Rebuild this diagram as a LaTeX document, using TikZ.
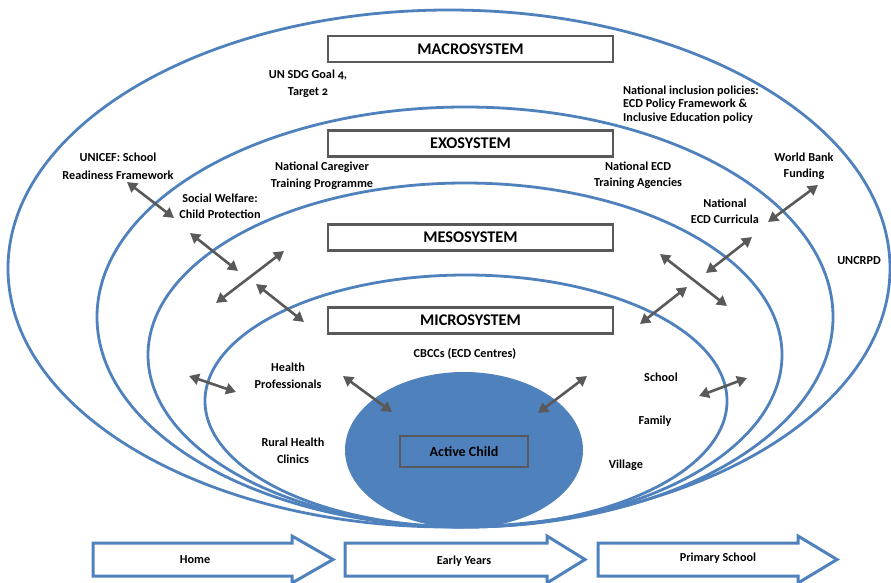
\documentclass[tikz,border=0pt]{standalone}
\usepackage{fontspec}
\setmainfont{Carlito}[Numbers=OldStyle]
\usetikzlibrary{arrows.meta}
\definecolor{eblue}{HTML}{4F81BD}
\definecolor{agray}{HTML}{595959}
\begin{document}
\begin{tikzpicture}[x=1pt,y=-1pt,
 ring/.style={draw=eblue,line width=2.8pt},
 sysbox/.style={draw=agray,line width=2.2pt,fill=white,minimum width=285pt,minimum height=26pt,font=\fontsize{16.3}{18}\selectfont\bfseries,inner sep=0pt},
 childbox/.style={draw=agray,line width=2.2pt,minimum width=128pt,minimum height=31pt,font=\fontsize{14}{16}\selectfont\bfseries,inner sep=0pt},
 lbl/.style={font=\fontsize{12.2}{17}\selectfont\bfseries,align=center,inner sep=0pt},
 dbl/.style={draw=agray,line width=2.6pt,{Triangle[length=10pt,width=11pt]}-{Triangle[length=10pt,width=11pt]}},
 flow/.style={draw=eblue,line width=3pt,fill=white,line join=miter},
]
\useasboundingbox (0,0) rectangle (891,583);
% rings
\draw[ring] (449,268.5) ellipse [x radius=441, y radius=258.5];
\draw[ring] (465,317) ellipse [x radius=368, y radius=210];
\draw[ring] (465,355) ellipse [x radius=317, y radius=172];
\draw[ring] (466,401) ellipse [x radius=261, y radius=126];
\fill[eblue] (464,450) ellipse [x radius=119, y radius=78];
% system boxes
\node[sysbox] (macro) at (470.5,49) {MACROSYSTEM};
\node[sysbox] (exo) at (470.5,143.5) {EXOSYSTEM};
\node[sysbox] (meso) at (470.5,237.5) {MESOSYSTEM};
\node[sysbox] (micro) at (470.5,320.5) {MICROSYSTEM};
\node[childbox] (child) at (464,451.5) {Active Child};
% labels
\node[lbl] (sdg) at (308,83.5) {UN SDG Goal 4,\\Target 2};
\node[lbl,align=left,anchor=west,font=\fontsize{12.2}{13.5}\selectfont\bfseries] (incl) at (623,104.5) {National inclusion policies:\\ECD Policy Framework \&\\Inclusive Education policy};
\node[lbl,font=\fontsize{12.2}{18}\selectfont\bfseries] (unicef) at (118,166) {UNICEF: School\\Readiness Framework};
\node[lbl] (care) at (322,175.5) {National Caregiver\\Training Programme};
\node[lbl,font=\fontsize{12.2}{16}\selectfont\bfseries] (agency) at (638,175) {National ECD\\Training Agencies};
\node[lbl,font=\fontsize{12.2}{16}\selectfont\bfseries] (wb) at (804,166) {World Bank\\Funding};
\node[lbl,font=\fontsize{12.2}{16}\selectfont\bfseries] (sw) at (220,206) {Social Welfare:\\Child Protection};
\node[lbl,font=\fontsize{12.2}{16}\selectfont\bfseries] (curr) at (725,211) {National\\ECD Curricula};
\node[lbl] (uncrpd) at (859,261) {UNCRPD};
\node[lbl] (cbcc) at (465,354) {CBCCs (ECD Centres)};
\node[lbl] (health) at (288,375.5) {Health\\Professionals};
\node[lbl] (rural) at (293,450.5) {Rural Health\\Clinics};
\node[lbl] (school) at (661,377) {School};
\node[lbl] (family) at (655,421) {Family};
\node[lbl] (village) at (626,465) {Village};
% interaction arrows
\foreach \n/\ax/\ay/\bx/\by in {1/127/182/174/218, 2/190/233/238/271, 3/284/251/216/303, 4/256/284/304/322, 5/189/376/236/392, 6/343/376/392/412, 7/587/376/538/413, 8/747/378/699/396, 9/687/287/640/324, 10/660/254/727/306, 11/752/237/706/273, 12/818/185/768/222}{
  \coordinate (s\n) at (\ax,\ay);
  \coordinate (e\n) at (\bx,\by);
  \draw[dbl] (s\n) -- (e\n);
}
% bottom flow arrows
\draw[flow] (93,543) -- (292,543) -- (292,536) -- (333,559.5) -- (292,583) -- (292,576) -- (93,576) -- cycle;
\draw[flow] (345,543) -- (547,543) -- (547,536) -- (585,559.5) -- (547,583) -- (547,576) -- (345,576) -- cycle;
\draw[flow] (598,543) -- (798,543) -- (798,536) -- (837,559.5) -- (798,583) -- (798,576) -- (598,576) -- cycle;
\node[lbl] (home) at (195,560) {Home};
\node[lbl] (early) at (464,561) {Early Years};
\node[lbl] (primary) at (718,558) {Primary School};
\end{tikzpicture}
\end{document}
